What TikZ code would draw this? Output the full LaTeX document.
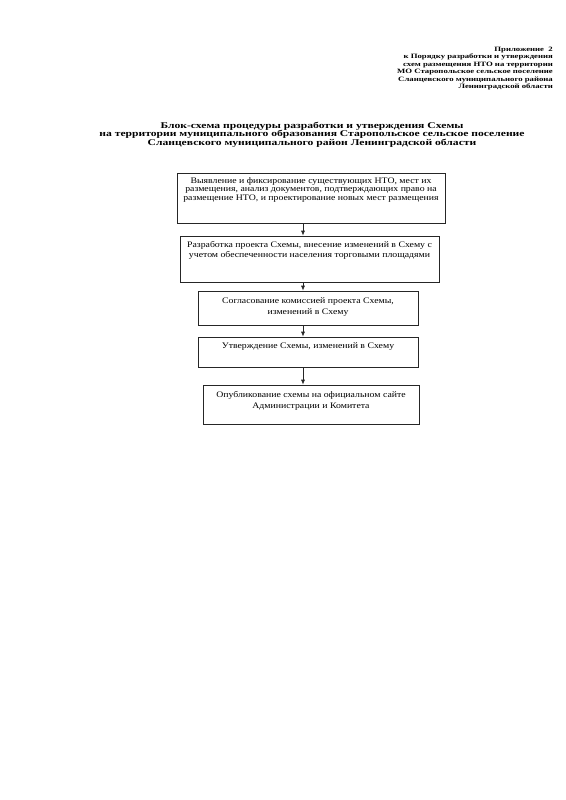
\documentclass[tikz,border=0pt]{standalone}
\usepackage{fontspec}
\setmainfont[FakeStretch=1.15]{Liberation Serif}
\newfontfamily\widefont[FakeStretch=1.32]{Liberation Serif}
\usetikzlibrary{arrows.meta}
\tikzset{
  stepbox/.style={draw=black!85, line width=0.7pt, inner sep=0pt},
  steptext/.style={anchor=north, align=center, inner sep=0pt,
    font=\fontsize{8.5}{#1}\selectfont},
  steptext/.default=10,
  arr/.style={-{Latex[length=5pt,width=4pt]}, line width=0.7pt, black!85}
}
\begin{document}
\lineskiplimit=-20pt
\begin{tikzpicture}[x=1pt,y=-1pt]
\useasboundingbox[fill=white] (0,0) rectangle (565,800);

% header
\node (app)[anchor=north east, align=right, inner sep=0pt,
  font=\widefont\fontsize{6.6}{7.5}\selectfont\bfseries] at (553,46.5)
  {Приложение~~2\\ к Порядку разработки и утверждения\\ схем размещения НТО на территории\\
   МО Старопольское сельское поселение\\ Сланцевского муниципального района\\ Ленинградской области};

% title
\node (title)[anchor=north, align=center, inner sep=0pt,
  font=\widefont\fontsize{8.8}{8.7}\selectfont\bfseries] at (312,121.5)
  {Блок-схема процедуры разработки и утверждения Схемы\\
   на территории муниципального образования Старопольское сельское поселение\\
   Сланцевского муниципального район Ленинградской области};

% boxes
\node (b1)[stepbox, minimum width=268, minimum height=50] at (311,198) {};
\node (b2)[stepbox, minimum width=259, minimum height=46] at (309.5,259) {};
\node (b3)[stepbox, minimum width=220, minimum height=34] at (308,308) {};
\node (b4)[stepbox, minimum width=220, minimum height=30] at (308,352) {};
\node (b5)[stepbox, minimum width=216, minimum height=39] at (311,404.5) {};

% texts
\node (t1)[steptext=8.7] at ([yshift=-4.5]b1.north)
  {Выявление и фиксирование существующих НТО, мест их\\
   размещения, анализ документов, подтверждающих право на\\
   размещение НТО, и проектирование новых мест размещения};
\node (t2)[steptext] at ([yshift=-6]b2.north)
  {Разработка проекта Схемы, внесение изменений в Схему с\\
   учетом обеспеченности населения торговыми площадями};
\node (t3)[steptext=11.5] at ([yshift=-6.5]b3.north)
  {Согласование комиссией проекта Схемы,\\ изменений в Схему};
\node (t4)[steptext] at ([yshift=-6]b4.north)
  {Утверждение Схемы, изменений в Схему};
\node (t5)[steptext=11] at ([yshift=-6.5]b5.north)
  {Опубликование схемы на официальном сайте\\ Администрации и Комитета};

% arrows
\coordinate (ax) at (303,0);
\draw[arr] (b1.south -| ax) -- (b2.north -| ax);
\draw[arr] (b2.south -| ax) -- (b3.north -| ax);
\draw[arr] (b3.south -| ax) -- (b4.north -| ax);
\draw[arr] (b4.south -| ax) -- (b5.north -| ax);

\end{tikzpicture}
\end{document}
